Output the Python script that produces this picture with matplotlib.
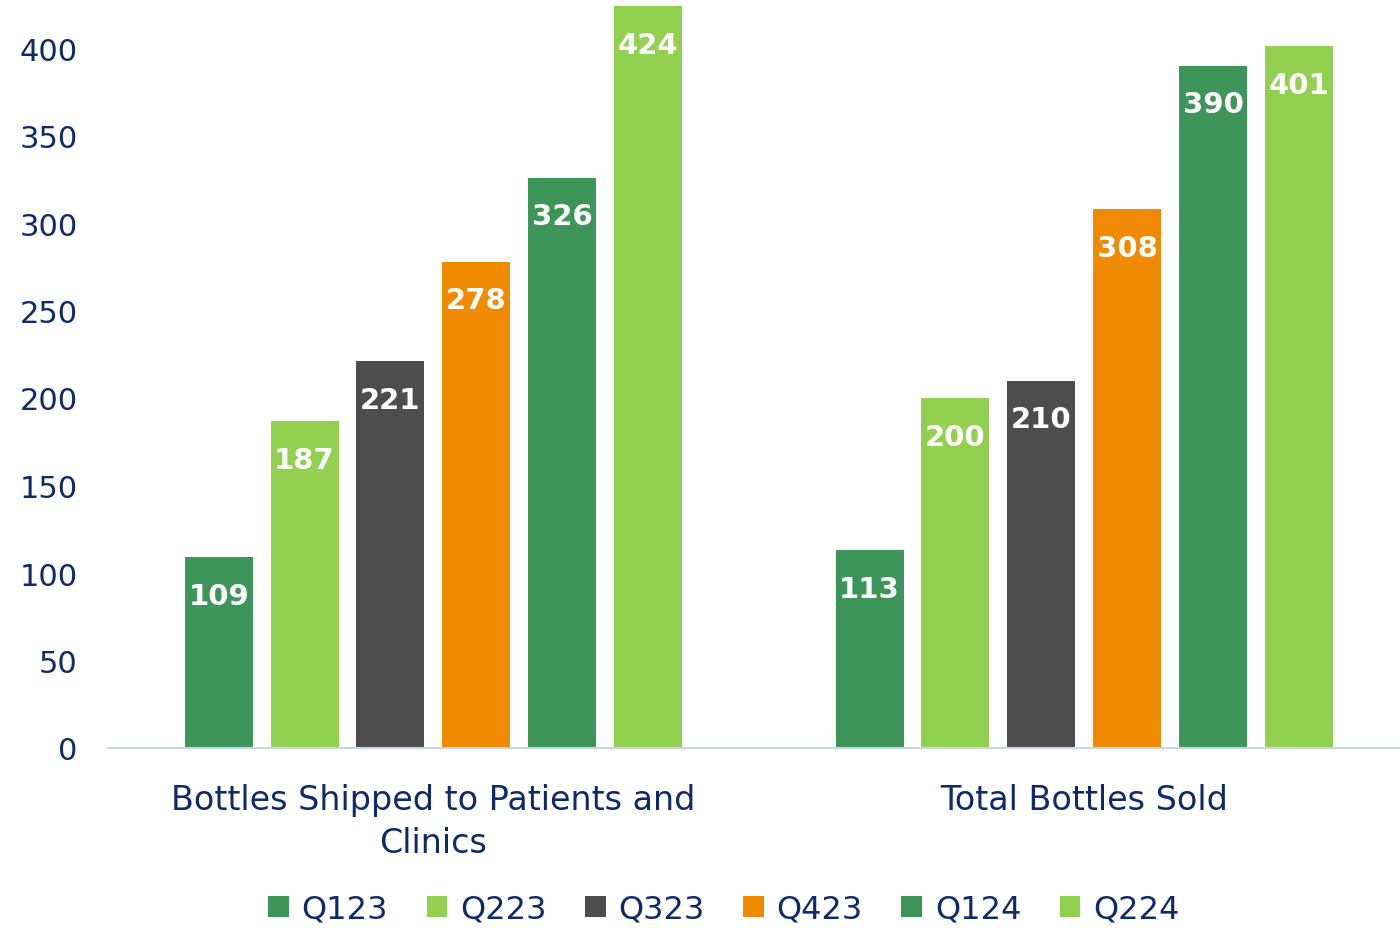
import numpy as np
import matplotlib.pyplot as plt
from matplotlib.patches import Patch

categories = ['Bottles Shipped to Patients and\nClinics', 'Total Bottles Sold']
quarters = ['Q123', 'Q223', 'Q323', 'Q423', 'Q124', 'Q224']
values = {
    'Q123': [109, 113],
    'Q223': [187, 200],
    'Q323': [221, 210],
    'Q423': [278, 308],
    'Q124': [326, 390],
    'Q224': [424, 401],
}
colors = ['#3E9559', '#92D050', '#4D4D4D', '#F08A00', '#3E9559', '#92D050']
yticks = [0, 50, 100, 150, 200, 250, 300, 350, 400]

navy = '#0E2A6A'
plt.rcParams['font.family'] = ['DejaVu Sans']

fig = plt.figure(figsize=(14, 9.29), dpi=100)
ax = fig.add_axes([108/1400, 1 - 749/929, 1 - 108/1400, 749/929])

x = np.arange(len(categories))
width = 0.1045
pitch = 0.132
for i, q in enumerate(quarters):
    pos = x + (i - 2.5) * pitch
    bars = ax.bar(pos, values[q], width, color=colors[i], label=q)
    for b, v in zip(bars, values[q]):
        ax.annotate(str(v), (b.get_x() + b.get_width()/2, v),
                    xytext=(0, -28), textcoords='offset points',
                    ha='center', va='center', color='white',
                    fontsize=21, fontweight='bold')

ax.set_xlim(-0.5, 1.485)
ax.set_ylim(0, 749/1.75)
ax.set_yticks(yticks)
ax.set_yticklabels([str(t) for t in yticks])
ax.set_xticks(x)
ax.set_xticklabels(categories, linespacing=1.4)
ax.tick_params(axis='y', length=0, labelsize=22, labelcolor=navy, pad=22)
ax.tick_params(axis='x', length=0, labelsize=24, labelcolor=navy, pad=25)
for s in ['top', 'right', 'left']:
    ax.spines[s].set_visible(False)
ax.spines['bottom'].set_color('#C5D5F0')
ax.spines['bottom'].set_linewidth(1.5)

handles = [Patch(facecolor=c, label=q) for q, c in zip(quarters, colors)]
leg = fig.legend(handles=handles, loc='center', bbox_to_anchor=(0.517, 1 - 910/929),
                 ncol=6, frameon=False, fontsize=23, handlelength=0.65, handleheight=0.65,
                 handletextpad=0.4, columnspacing=1.2)
for t in leg.get_texts():
    t.set_color(navy)

fig.savefig('out.png', dpi=100)
